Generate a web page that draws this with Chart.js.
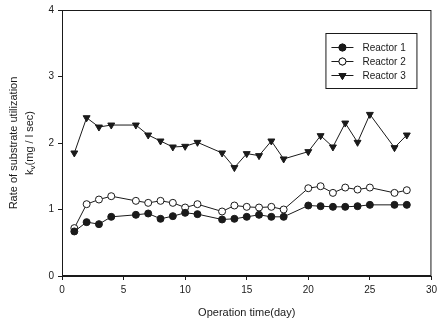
<!DOCTYPE html>
<html>
<head>
<meta charset="utf-8">
<script src="https://cdn.jsdelivr.net/npm/chart.js@4"></script>
<style>
  html, body { margin: 0; padding: 0; background: #fff; }
  #wrap { width: 441px; height: 324px; }
</style>
</head>
<body>
<div id="wrap"><canvas id="myChart" width="441" height="324"></canvas></div>
<script>
// operation days (x)
const days = [1, 2, 3, 4, 6, 7, 8, 9, 10, 11, 13, 14, 15, 16, 17, 18, 20, 21, 22, 23, 24, 25, 27, 28];

// kv values
const reactor1 = [0.67, 0.81, 0.78, 0.89, 0.92, 0.94, 0.86, 0.90, 0.95, 0.93, 0.85, 0.86, 0.89, 0.92, 0.89, 0.89, 1.06, 1.05, 1.04, 1.04, 1.05, 1.07, 1.07, 1.07];
const reactor2 = [0.72, 1.08, 1.15, 1.20, 1.13, 1.10, 1.13, 1.10, 1.03, 1.08, 0.97, 1.06, 1.04, 1.03, 1.04, 1.00, 1.32, 1.35, 1.25, 1.33, 1.30, 1.33, 1.25, 1.29];
const reactor3 = [1.85, 2.38, 2.24, 2.27, 2.27, 2.12, 2.03, 1.94, 1.95, 2.01, 1.85, 1.63, 1.84, 1.81, 2.03, 1.76, 1.87, 2.11, 1.94, 2.30, 2.01, 2.43, 1.93, 2.12];

const seriesNames = ['Reactor 1', 'Reactor 2', 'Reactor 3'];
const xTicks = [0, 5, 10, 15, 20, 25, 30];
const yTicks = [0, 1, 2, 3, 4];

const ink = '#1a1a1a';
const font = 'Arial, "Liberation Sans", sans-serif';

function toPoints(vals) {
    return days.map(function (d, i) { return { x: d, y: vals[i] }; });
}

const styles = [
    { bg: ink, style: 'circle', rot: 0, r: 3.5 },
    { bg: '#ffffff', style: 'circle', rot: 0, r: 3.5 },
    { bg: ink, style: 'triangle', rot: 180, r: 4 }
];

const datasets = [reactor1, reactor2, reactor3].map(function (vals, i) {
    return {
        label: seriesNames[i],
        data: toPoints(vals),
        borderColor: ink,
        borderWidth: 1,
        backgroundColor: styles[i].bg,
        pointBackgroundColor: styles[i].bg,
        pointBorderColor: ink,
        pointBorderWidth: 1,
        pointStyle: styles[i].style,
        pointRotation: styles[i].rot,
        pointRadius: styles[i].r,
        showLine: true,
        tension: 0
    };
});

// frame, legend box and two-line y title
const extras = {
    id: 'extras',
    afterDraw: function (chart) {
        const ctx = chart.ctx;
        const a = chart.chartArea;
        ctx.save();
        ctx.strokeStyle = ink;
        ctx.lineWidth = 1;
        ctx.strokeRect(a.left + 0.5, a.top + 0.5, a.right - a.left - 1, a.bottom - a.top - 1);

        // legend
        const bw = 91, bh = 55;
        const bx = a.right - 15 - bw, by = a.top + 23;
        ctx.fillStyle = '#fff';
        ctx.fillRect(bx, by, bw, bh);
        ctx.strokeRect(bx + 0.5, by + 0.5, bw, bh);
        chart.data.datasets.forEach(function (ds, i) {
            const ly = by + 14 + i * 14;
            ctx.beginPath();
            ctx.moveTo(bx + 6, ly + 0.5);
            ctx.lineTo(bx + 28, ly + 0.5);
            ctx.strokeStyle = ink;
            ctx.stroke();
            Chart.helpers.drawPoint(ctx, {
                pointStyle: ds.pointStyle,
                rotation: ds.pointRotation,
                radius: ds.pointRadius,
                borderWidth: 1
            }, bx + 17, ly + 0.5);
            ctx.fillStyle = ds.pointBackgroundColor;
            ctx.fill();
            ctx.stroke();
            ctx.fillStyle = ink;
            ctx.font = '10px ' + font;
            ctx.textBaseline = 'middle';
            ctx.textAlign = 'left';
            ctx.fillText(ds.label, bx + 37, ly + 1);
        });

        // y title
        const cy = (a.top + a.bottom) / 2;
        ctx.translate(0, cy);
        ctx.rotate(-Math.PI / 2);
        ctx.fillStyle = ink;
        ctx.textBaseline = 'middle';
        ctx.textAlign = 'center';
        ctx.font = '11px ' + font;
        ctx.fillText('Rate of substrate utilization', 0, 14);
        const p1 = 'k', p2 = 'v', p3 = '(mg / l sec)';
        ctx.font = '11px ' + font;
        const w1 = ctx.measureText(p1).width;
        const w3 = ctx.measureText(p3).width;
        ctx.font = '8px ' + font;
        const w2 = ctx.measureText(p2).width;
        let sx = -(w1 + w2 + w3) / 2;
        ctx.textAlign = 'left';
        ctx.font = '11px ' + font;
        ctx.fillText(p1, sx, 30);
        ctx.font = '8px ' + font;
        ctx.fillText(p2, sx + w1, 33);
        ctx.font = '11px ' + font;
        ctx.fillText(p3, sx + w1 + w2, 30);
        ctx.restore();
    }
};

const chartCtx = document.getElementById('myChart').getContext('2d');

const myChart = new Chart(chartCtx, {
    type: 'scatter',
    data: { datasets: datasets },
    options: {
        responsive: false,
        animation: false,
        layout: { padding: { top: 8, right: 6, left: 0, bottom: 0 } },
        plugins: {
            legend: { display: false },
            tooltip: { enabled: false }
        },
        scales: {
            x: {
                type: 'linear',
                min: 0,
                max: 30,
                afterBuildTicks: function (axis) {
                    axis.ticks = xTicks.map(function (v) { return { value: v }; });
                },
                afterFit: function (axis) { axis.height = 48; },
                grid: { drawOnChartArea: false, drawTicks: true, tickLength: 4, color: ink },
                border: { display: true, color: ink },
                ticks: { color: ink, font: { size: 10, family: font }, padding: 4, maxRotation: 0 },
                title: {
                    display: true,
                    text: 'Operation time(day)',
                    color: ink,
                    font: { size: 11, family: font },
                    padding: { top: 8 }
                }
            },
            y: {
                min: 0,
                max: 4,
                afterBuildTicks: function (axis) {
                    axis.ticks = yTicks.map(function (v) { return { value: v }; });
                },
                afterFit: function (axis) { axis.width = 62; },
                grid: { drawOnChartArea: false, drawTicks: true, tickLength: 4, color: ink },
                border: { display: true, color: ink },
                ticks: { color: ink, font: { size: 10, family: font }, padding: 4 }
            }
        }
    },
    plugins: [extras]
});
</script>
</body>
</html>
